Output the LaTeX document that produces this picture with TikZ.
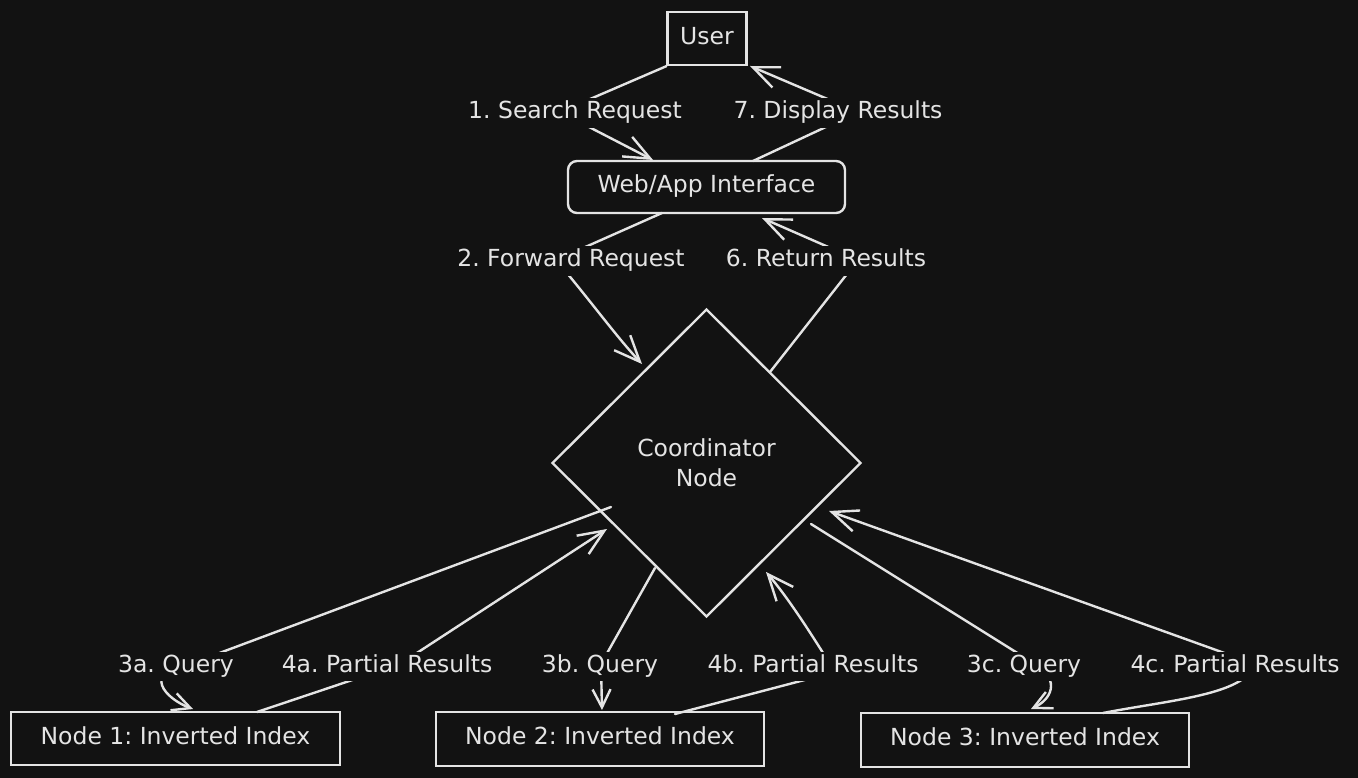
\documentclass[tikz,border=0pt]{standalone}
\usepackage{fontspec}
\setmainfont{DejaVu Sans}
\usetikzlibrary{shapes.geometric,arrows.meta}
\definecolor{bg}{HTML}{121212}
\definecolor{fg}{HTML}{E4E4E4}
\frenchspacing
\begin{document}
\begin{tikzpicture}[x=1pt,y=-1pt,
  every node/.style={text=fg, font=\fontsize{23.5}{30}\selectfont},
  box/.style={draw=fg, line width=2.4pt, inner sep=0pt, text height=17.6pt, text depth=5.9pt},
  lbl/.style={fill=bg, inner xsep=3pt, inner ysep=3pt, text height=17.6pt, text depth=5.9pt},
  link/.style={draw=fg, line width=2.4pt, line cap=round, line join=round},
  arr/.style={link, -{Straight Barb[length=26pt,width=22pt]}},
  arrs/.style={link, -{Straight Barb[length=18pt,width=18pt]}},
]
\useasboundingbox (0,0) rectangle (1358,778);
\fill[bg] (0,0) rectangle (1358,778);

% shapes
\node[box, minimum width=79pt, minimum height=53pt] (user) at (707,38.5) {User};
\node[box, rounded corners=9pt, minimum width=277pt, minimum height=52pt] (web) at (706.5,187) {Web/App Interface};
\node[draw=fg, line width=2.4pt, diamond, minimum width=309pt, minimum height=308pt, inner sep=0pt, align=center] (coord) at (706.5,463) {Coordinator\\Node};
\node[box, minimum width=329pt, minimum height=53pt] (n1) at (175.5,738.5) {Node 1: Inverted Index};
\node[box, minimum width=328pt, minimum height=54pt] (n2) at (600,739) {Node 2: Inverted Index};
\node[box, minimum width=328pt, minimum height=54pt] (n3) at (1025,740) {Node 3: Inverted Index};

% connector points
\coordinate (b1) at (560,112);  \coordinate (t1) at (653,160);
\coordinate (s7) at (753,161);  \coordinate (b7) at (858,112);  \coordinate (t7) at (750,66);
\coordinate (s2) at (662,213);  \coordinate (b2) at (556,260);  \coordinate (t2) at (642,364);
\coordinate (s6) at (770,372);  \coordinate (b6) at (858,260);  \coordinate (t6) at (762,218);
\coordinate (s3a) at (611,507); \coordinate (b3a) at (190,664); \coordinate (t3a) at (193,709);
\coordinate (s4a) at (257,712); \coordinate (b4a) at (400,664); \coordinate (t4a) at (607,529);
\coordinate (s3b) at (655,568); \coordinate (b3b) at (601,664); \coordinate (t3b) at (602,710);
\coordinate (s4b) at (675,714); \coordinate (b4b) at (835,672); \coordinate (t4b) at (766,572);
\coordinate (s3c) at (811,524); \coordinate (b3c) at (1035,664); \coordinate (t3c) at (1031,709);
\coordinate (s4c) at (1103,713); \coordinate (b4c) at (1255,664); \coordinate (t4c) at (829,511);

% connectors
\draw[arr] (user.south west) -- (b1) -- (t1);
\draw[arr] (s7) -- (b7) -- (t7);
\draw[arr] (s2) -- (b2) .. controls (590,300) and (615,335) .. (t2);
\draw[arr] (s6) -- (b6) -- (t6);
\draw[arrs] (s3a) -- (b3a) .. controls (140,672) and (166,699) .. (t3a);
\draw[arr] (s4a) -- (b4a) -- (t4a);
\draw[arrs] (s3b) -- (b3b) -- (t3b);
\draw[arr] (s4b) -- (b4b) .. controls (815,640) and (790,600) .. (t4b);
\draw[arrs] (s3c) -- (b3c) .. controls (1062,681) and (1050,700) .. (t3c);
\draw[arr] (s4c) .. controls (1170,700) and (1245,695) .. (b4c) -- (t4c);

% labels
\node[lbl] (l1) at (575,113) {1. Search Request};
\node[lbl] (l7) at (838,113) {7. Display Results};
\node[lbl] (l2) at (571,261) {2. Forward Request};
\node[lbl] (l6) at (826,261) {6. Return Results};
\node[lbl] (l3a) at (176,666.5) {3a. Query};
\node[lbl] (l4a) at (387,666.5) {4a. Partial Results};
\node[lbl] (l3b) at (600,666.5) {3b. Query};
\node[lbl] (l4b) at (813,666.5) {4b. Partial Results};
\node[lbl] (l3c) at (1024,666.5) {3c. Query};
\node[lbl] (l4c) at (1235,666.5) {4c. Partial Results};
\end{tikzpicture}
\end{document}
